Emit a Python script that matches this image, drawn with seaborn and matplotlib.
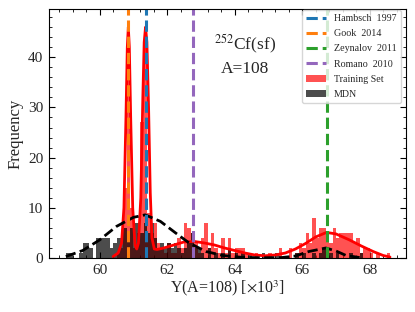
import numpy as np
import pandas as pd
import seaborn as sns
import matplotlib
matplotlib.use('Agg')
from matplotlib import pyplot as plt
from matplotlib.ticker import AutoMinorLocator

# Training set histogram (bin centres, counts), bin width 0.1
train_x = [60.55, 60.65, 60.75, 60.85, 60.95, 61.05, 61.15, 61.25, 61.35, 61.45,
           61.55, 61.65, 61.75, 61.85, 61.95, 62.05, 62.15, 62.25, 62.35, 62.45,
           62.55, 62.65, 62.75, 62.85, 62.95, 63.05, 63.15, 63.25, 63.35, 63.45,
           63.55, 63.65, 63.75, 63.85, 63.95, 64.05, 64.15, 64.25, 64.35, 64.65,
           65.05, 65.35, 65.65, 65.85, 65.95, 66.05, 66.15, 66.25, 66.35, 66.45,
           66.55, 66.65, 66.75, 66.85, 66.95, 67.05, 67.15, 67.25, 67.35, 67.45,
           67.55, 67.65, 67.75, 67.85, 67.95, 68.05, 68.25, 68.55]
train_n = [1, 2, 14, 45, 10, 2, 5, 27, 45, 9,
           5, 7, 3, 2, 1, 3, 1, 1, 4, 2,
           7, 6, 5, 3, 1, 4, 7, 2, 5, 2,
           1, 4, 1, 4, 1, 2, 2, 2, 1, 1,
           1, 2, 2, 1, 3, 2, 5, 3, 8, 4,
           6, 6, 4, 3, 6, 4, 5, 5, 5, 5,
           3, 4, 1, 2, 2, 1, 1, 1]

# MDN histogram
mdn_x = [59.05, 59.15, 59.45, 59.55, 59.65, 59.75, 59.95, 60.05, 60.15, 60.25,
         60.35, 60.45, 60.55, 60.65, 60.75, 60.85, 60.95, 61.05, 61.15, 61.25,
         61.35, 61.45, 61.55, 61.65, 61.75, 61.85, 61.95, 62.05, 62.15, 62.25,
         62.35, 62.45, 62.55, 62.65, 62.75, 62.85, 62.95, 63.05, 63.25, 63.45,
         63.65, 63.85, 64.05, 64.25, 64.45, 64.85, 65.25, 65.85, 66.05, 66.35,
         66.55, 66.65, 66.75, 66.85, 67.05, 67.45, 67.75]
mdn_n = [1, 1, 1, 3, 3, 2, 4, 4, 4, 4,
         2, 3, 4, 4, 6, 5, 6, 7, 7, 5,
         7, 5, 7, 4, 2, 3, 2, 3, 2, 3,
         2, 1, 2, 3, 5, 2, 2, 1, 2, 1,
         1, 2, 1, 1, 1, 1, 1, 1, 1, 1,
         1, 2, 2, 1, 1, 1, 1]

# Density curves
train_curve_x = [60.40, 60.55, 60.65, 60.72, 60.78, 60.82, 60.85, 60.88, 60.92, 60.98,
                 61.05, 61.10, 61.15, 61.22, 61.28, 61.32, 61.36, 61.40, 61.45, 61.50,
                 61.55, 61.62, 61.70, 61.90, 62.20, 62.50, 62.80, 63.10, 63.40, 63.70,
                 64.00, 64.30, 64.60, 64.90, 65.20, 65.50, 65.80, 66.10, 66.40, 66.72,
                 67.00, 67.40, 67.75, 68.10, 68.40, 68.60]
train_curve_y = [0.3, 1.0, 3.0, 10, 28, 42, 46, 42, 28, 10,
                 2.5, 1.8, 3.0, 12, 32, 43, 46, 43, 30, 13,
                 4.0, 1.8, 1.7, 2.0, 2.6, 3.2, 3.3, 3.0, 2.6, 2.0,
                 1.5, 1.0, 0.6, 0.45, 0.6, 1.0, 1.8, 2.9, 4.2, 5.1,
                 4.8, 3.6, 2.4, 1.3, 0.5, 0.2]
mdn_curve_x = [59.00, 59.50, 60.00, 60.50, 61.00, 61.35, 61.80, 62.25, 62.65, 63.15,
               63.65, 64.20, 64.80, 65.40, 65.80, 66.20, 66.70, 67.00, 67.30, 67.70]
mdn_curve_y = [0.3, 1.5, 3.6, 6.3, 8.1, 8.6, 7.3, 5.0, 3.0, 1.3,
               0.5, 0.15, 0.05, 0.1, 0.4, 1.3, 2.0, 1.4, 0.5, 0.1]

# Experimental values
exp_labels = ['Hambsch  1997', 'Gook  2014', 'Zeynalov  2011', 'Romano  2010']
exp_values = [61.38, 60.84, 66.74, 62.77]
exp_colors = ['tab:blue', 'tab:orange', 'tab:green', 'tab:purple']

sns.set_style('ticks')
plt.rcParams['font.family'] = ['Liberation Serif', 'DejaVu Serif']
plt.rcParams['mathtext.fontset'] = 'stix'
plt.rcParams['xtick.direction'] = plt.rcParams['ytick.direction'] = 'in'
plt.rcParams['xtick.top'] = plt.rcParams['ytick.right'] = True
plt.rcParams['xtick.minor.visible'] = plt.rcParams['ytick.minor.visible'] = True
plt.rcParams['xtick.labelsize'] = plt.rcParams['ytick.labelsize'] = 11

fig = plt.figure(figsize=(4.15, 3.12), dpi=100)
ax = fig.add_axes([0.118, 0.173, 0.86, 0.798])

train_df = pd.DataFrame({'Y': train_x, 'n': train_n})
mdn_df = pd.DataFrame({'Y': mdn_x, 'n': mdn_n})
edges_t = [round(v, 2) for v in np.arange(60.5, 68.65, 0.1)]
edges_m = [round(v, 2) for v in np.arange(59.0, 67.85, 0.1)]
sns.histplot(data=train_df, x='Y', weights='n', bins=edges_t, color='red', alpha=0.68,
             edgecolor='none', linewidth=0, label='Training Set', ax=ax)
sns.histplot(data=mdn_df, x='Y', weights='n', bins=edges_m, color='black', alpha=0.7,
             edgecolor='none', linewidth=0, label='MDN', ax=ax)

sns.lineplot(x=train_curve_x, y=train_curve_y, color='red', linewidth=2, ax=ax)
sns.lineplot(x=mdn_curve_x, y=mdn_curve_y, color='black', linewidth=2,
             linestyle='--', ax=ax)

for lab, val, col in zip(exp_labels, exp_values, exp_colors):
    ax.axvline(val, color=col, linestyle='--', linewidth=2.2, label=lab)

ax.set_xlim(58.5, 69.07)
ax.set_ylim(0, 49.6)
ax.set_yticks([0, 10, 20, 30, 40])
ax.xaxis.set_minor_locator(AutoMinorLocator(5))
ax.yaxis.set_minor_locator(AutoMinorLocator(5))
ax.tick_params(which='major', length=4, width=0.8, color='black', pad=4)
ax.tick_params(which='minor', length=2, width=0.6, color='black')
for s in ax.spines.values():
    s.set_color('black')
    s.set_linewidth(0.8)

ax.set_xlabel(r'Y(A=108) [$\times$10$^3$]', fontsize=11.5, labelpad=1)
ax.set_ylabel('Frequency', fontsize=12, labelpad=3)

ax.text(0.55, 0.86, r'$^{252}$Cf(sf)', transform=ax.transAxes, ha='center',
        va='center', fontsize=12.5)
ax.text(0.55, 0.76, 'A=108', transform=ax.transAxes, ha='center',
        va='center', fontsize=12.5)

ax.legend(loc='upper right', bbox_to_anchor=(0.988, 1.0), borderaxespad=0.1,
          fontsize=7.2, labelspacing=0.62, handlelength=2.0, frameon=True)

fig.savefig('out.png', dpi=100)
